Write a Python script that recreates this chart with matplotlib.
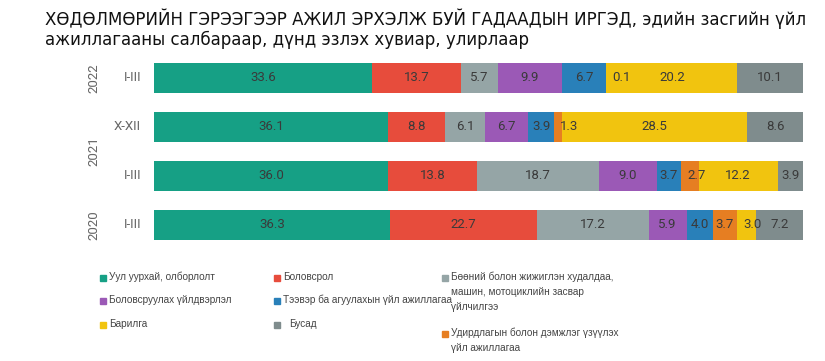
import matplotlib
matplotlib.use("Agg")
import matplotlib.pyplot as plt
from matplotlib.patches import Rectangle

# rows from bottom to top
years = ["2020", "2021", "2021", "2022"]
quarters = ["I-III", "I-III", "X-XII", "I-III"]
sectors = [
    "Уул уурхай, олборлолт",
    "Боловсрол",
    "Бөөний болон жижиглэн худалдаа,\nмашин, мотоциклийн засвар\nүйлчилгээ",
    "Боловсруулах үйлдвэрлэл",
    "Тээвэр ба агуулахын үйл ажиллагаа",
    "Удирдлагын болон дэмжлэг үзүүлэх\nүйл ажиллагаа",
    "Барилга",
    "Бусад",
]
values = [
    [36.3, 36.0, 36.1, 33.6],
    [22.7, 13.8, 8.8, 13.7],
    [17.2, 18.7, 6.1, 5.7],
    [5.9, 9.0, 6.7, 9.9],
    [4.0, 3.7, 3.9, 6.7],
    [3.7, 2.7, 1.3, 0.1],
    [3.0, 12.2, 28.5, 20.2],
    [7.2, 3.9, 8.6, 10.1],
]
colors = ["#16a085", "#e74c3c", "#95a5a6", "#9b59b6",
          "#2980b9", "#e67e22", "#f1c40f", "#7f8c8d"]

fig = plt.figure(figsize=(8.25, 3.61), dpi=100)
ax = fig.add_axes([154 / 825, 1 - 249.5 / 361, 649 / 825, 196 / 361])

ypos = list(range(len(quarters)))
left = [0.0] * len(ypos)
for vals, col in zip(values, colors):
    ax.barh(ypos, vals, left=left, height=0.6, color=col, edgecolor="none")
    for i, v in enumerate(vals):
        if v < 3.5:
            ax.text(left[i] + 1.0, i, f"{v:.1f}", ha="left", va="center",
                    fontsize=9.5, color="#3a3a3a", family="Roboto")
        else:
            ax.text(left[i] + v / 2, i, f"{v:.1f}", ha="center", va="center",
                    fontsize=9.5, color="#3a3a3a", family="Roboto")
        left[i] += v

ax.set_xlim(0, 100)
ax.set_ylim(-0.5, 3.5)
ax.axis("off")

for i, q in enumerate(quarters):
    ax.text(-2.0, i, q, ha="right", va="center", fontsize=9.5,
            color="#666666", family="Roboto")

# year labels, centred on their rows
ylab = {}
for i, y in enumerate(years):
    ylab.setdefault(y, []).append(i)
for y, idx in ylab.items():
    ax.text(-9.3, sum(idx) / len(idx), y, ha="center", va="center",
            rotation=90, fontsize=9.5, color="#666666", family="Roboto")

fig.text(45 / 825, 1 - 19 / 361,
         "ХӨДӨЛМӨРИЙН ГЭРЭЭГЭЭР АЖИЛ ЭРХЭЛЖ БУЙ ГАДААДЫН ИРГЭД, эдийн засгийн үйл",
         fontsize=12, family="DejaVu Sans", color="#111111", va="center")
fig.text(45 / 825, 1 - 40 / 361,
         "ажиллагааны салбараар, дүнд эзлэх хувиар, улирлаар",
         fontsize=12, family="DejaVu Sans", color="#111111", va="center")

# legend, three columns
leg_order = [0, 3, 6, 1, 4, 7, 2, 5]
leg_x = [103, 103, 103, 277, 277, 277, 445, 445]
leg_y = [278, 301, 325, 278, 301, 325, 278, 334]
for k, xp, yp in zip(leg_order, leg_x, leg_y):
    fig.add_artist(Rectangle(((xp - 3) / 825, 1 - (yp + 3) / 361), 6 / 825, 6 / 361,
                             transform=fig.transFigure, color=colors[k]))
    pad = 12 if k == 7 else 6
    fig.text((xp + pad) / 825, 1 - (yp - 6) / 361, sectors[k], ha="left", va="top",
             fontsize=7.2, family="Liberation Sans", color="#444444",
             linespacing=1.6)

fig.savefig("out.png", dpi=100)
